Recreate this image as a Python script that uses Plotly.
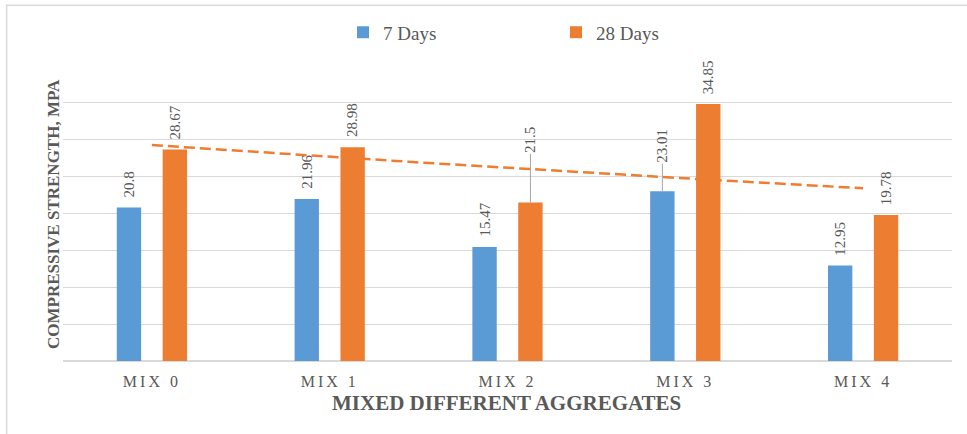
import numpy as np
import plotly.graph_objects as go

# Compressive strength (MPa) of each mix at two curing ages
mixes = ["MIX 0", "MIX 1", "MIX 2", "MIX 3", "MIX 4"]
days7 = [20.8, 21.96, 15.47, 23.01, 12.95]
days28 = [28.67, 28.98, 21.5, 34.85, 19.78]
series_names = ["7 Days", "28 Days"]

BLUE = "#5B9BD5"
ORANGE = "#ED7D31"
GRID = "#D9D9D9"
TEXT = "#595959"
SERIF = "Liberation Serif, Times New Roman, serif"

x = np.arange(len(mixes))
bar_w = 0.137
sep = 0.129  # distance from category centre to each bar centre

fig = go.Figure()
fig.add_trace(go.Bar(x=x, y=days7, name=series_names[0], marker=dict(color=BLUE, line=dict(width=0)),
                     width=bar_w, offset=-sep - bar_w / 2))
fig.add_trace(go.Bar(x=x, y=days28, name=series_names[1], marker=dict(color=ORANGE, line=dict(width=0)),
                     width=bar_w, offset=sep - bar_w / 2))

# Exponential trendline fitted to the 28-day strengths
b, ln_a = np.polyfit(x, np.log(days28), 1)
xt = np.linspace(x[0], x[-1], 80)
fig.add_trace(go.Scatter(x=xt, y=np.exp(ln_a + b * xt), mode="lines", showlegend=False,
                         line=dict(color=ORANGE, width=2.5, dash="11px,5px"), hoverinfo="skip"))

annotations = []
label_font = dict(family=SERIF, size=15, color=TEXT)
# labels lifted clear of the trendline, joined to their bar by a leader
# key: (series index, mix index) -> vertical offset of the label in px
leaders = {(1, 2): -63, (0, 3): -46}
for s, (vals, off) in enumerate([(days7, -sep), (days28, sep)]):
    for i, v in enumerate(vals):
        txt = f"{v:g}"
        if (s, i) in leaders:
            annotations.append(dict(x=i + off, y=v, text=txt, textangle=-90, font=label_font,
                                    showarrow=True, arrowhead=0, arrowwidth=1, arrowcolor="#A6A6A6",
                                    ax=0, ay=leaders[(s, i)], standoff=0))
        else:
            annotations.append(dict(x=i + off, y=v, text=txt, textangle=-90, font=label_font,
                                    showarrow=False, yanchor="bottom", yshift=8))

annotations.append(dict(xref="paper", yref="paper", x=0.499, y=-0.143, xanchor="center", yanchor="middle",
                        text="<b>MIXED DIFFERENT AGGREGATES</b>",
                        showarrow=False, font=dict(family=SERIF, size=21, color=TEXT)))
annotations.append(dict(xref="paper", yref="paper", x=-0.0099, y=0.499, xanchor="center", yanchor="middle",
                        text="<b>COMPRESSIVE STRENGTH, MPA</b>",
                        textangle=-90, showarrow=False, font=dict(family=SERIF, size=17, color=TEXT)))

fig.update_layout(
    width=967, height=434,
    margin=dict(l=63, r=15, t=66, b=73),
    paper_bgcolor="white", plot_bgcolor="white",
    barmode="overlay",
    annotations=annotations,
    legend=dict(orientation="h", x=0.315, xanchor="left", y=1.114, yanchor="middle",
                font=dict(family=SERIF, size=19, color=TEXT), entrywidth=168, entrywidthmode="pixels",
                bgcolor="rgba(0,0,0,0)", itemwidth=30),
    shapes=[dict(type="rect", xref="paper", yref="paper", x0=-0.0634, x1=1.03, y0=-0.3, y1=1.206,
                 line=dict(color=GRID, width=1.5), layer="below")],
    xaxis=dict(range=[-0.5, 4.5], tickvals=list(x),
               ticktext=[f'<span style="letter-spacing:3px">{m}</span>' for m in mixes],
               tickfont=dict(family=SERIF, size=16, color=TEXT), showgrid=False, zeroline=False,
               ticks="outside", ticklen=6, tickcolor="rgba(0,0,0,0)", showline=False, fixedrange=True),
    yaxis=dict(range=[0, 40], dtick=5, showticklabels=False, gridcolor=GRID, gridwidth=1,
               zeroline=True, zerolinecolor=GRID, zerolinewidth=1.5, fixedrange=True),
)

fig.write_html("out.html")
